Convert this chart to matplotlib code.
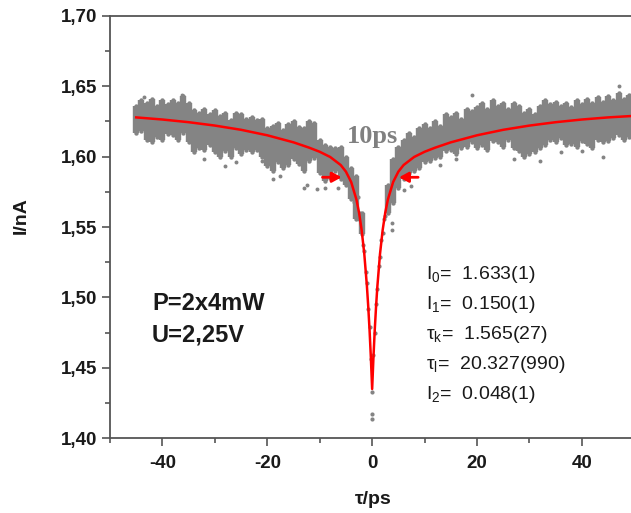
import matplotlib
matplotlib.use("Agg")
import matplotlib.pyplot as plt
import numpy as np

plt.rcParams["axes.unicode_minus"] = False
plt.rcParams["mathtext.fontset"] = "custom"
plt.rcParams["mathtext.rm"] = "Liberation Sans"
plt.rcParams["mathtext.it"] = "Liberation Sans"
plt.rcParams["mathtext.bf"] = "Liberation Sans:bold"

# ---- data ----
band_tau = [-45, -44, -43, -42, -41, -40, -39, -38, -37, -36, -35, -34, -33, -32, -31,
            -30, -29, -28, -27, -26, -25, -24, -23, -22, -21, -20, -19, -18, -17, -16,
            -15, -14, -13, -12, -11, -10, -9, -8, -7, -6, -5, -4, -3, -2,
            3, 4, 5, 6, 7, 8, 9, 10, 11, 12, 13, 14, 15, 16, 17, 18, 19, 20, 21, 22,
            23, 24, 25, 26, 27, 28, 29, 30, 31, 32, 33, 34, 35, 36, 37, 38, 39, 40,
            41, 42, 43, 44, 45, 46, 47, 48, 49]
band_hi = [1.636, 1.640, 1.638, 1.641, 1.636, 1.640, 1.637, 1.640, 1.638, 1.643, 1.638, 1.633, 1.631, 1.634, 1.630,
           1.633, 1.629, 1.631, 1.626, 1.631, 1.630, 1.627, 1.628, 1.626, 1.627, 1.620, 1.622, 1.624, 1.619, 1.623,
           1.625, 1.621, 1.620, 1.625, 1.624, 1.612, 1.608, 1.607, 1.606, 1.607, 1.600, 1.592, 1.586, 1.560,
           1.580, 1.598, 1.607, 1.612, 1.617, 1.614, 1.620, 1.623, 1.620, 1.625, 1.622, 1.630, 1.628, 1.631, 1.627, 1.634, 1.632, 1.635, 1.638, 1.634,
           1.640, 1.636, 1.638, 1.634, 1.638, 1.636, 1.631, 1.634, 1.630, 1.636, 1.640, 1.637, 1.639, 1.636, 1.638, 1.635, 1.640, 1.637,
           1.641, 1.638, 1.642, 1.639, 1.643, 1.640, 1.645, 1.641, 1.644]
band_lo = [1.617, 1.618, 1.612, 1.610, 1.614, 1.612, 1.616, 1.615, 1.612, 1.617, 1.610, 1.603, 1.606, 1.605, 1.608,
           1.603, 1.600, 1.604, 1.600, 1.606, 1.602, 1.605, 1.603, 1.605, 1.600, 1.593, 1.590, 1.596, 1.592, 1.594,
           1.598, 1.595, 1.590, 1.597, 1.599, 1.588, 1.583, 1.585, 1.590, 1.584, 1.580, 1.570, 1.556, 1.545,
           1.560, 1.567, 1.578, 1.584, 1.588, 1.590, 1.592, 1.596, 1.597, 1.599, 1.600, 1.604, 1.605, 1.602, 1.606, 1.607, 1.610, 1.606, 1.608, 1.605,
           1.611, 1.610, 1.607, 1.612, 1.606, 1.604, 1.600, 1.602, 1.603, 1.606, 1.608, 1.612, 1.610, 1.613, 1.608, 1.609, 1.607, 1.611,
           1.609, 1.606, 1.612, 1.610, 1.611, 1.613, 1.615, 1.612, 1.614]

outlier_tau = [-43.5, -36.3, -32.0, -28.0, -26.0, -21.0, -19.0, -17.5, -13.0, -12.5, -10.5, -9.0, -6.5,
               3.7, 3.8, 6.0, 7.5, 13.0, 16.0, 19.0, 27.0, 32.0, 36.0, 40.0, 44.0, 47.0]
outlier_I = [1.642, 1.644, 1.598, 1.593, 1.596, 1.597, 1.584, 1.586, 1.578, 1.580, 1.577, 1.578, 1.578,
             1.553, 1.548, 1.576, 1.579, 1.594, 1.598, 1.644, 1.598, 1.597, 1.603, 1.604, 1.600, 1.650]

dip_tau = [-3.75, -3.5, -3.25, -3.0, -2.75, -2.5, -2.25, -2.0, -1.75, -1.5, -1.25, -1.0, -0.75, -0.5, -0.25,
           0.0, 0.0, 0.0, 0.25, 0.5, 0.75, 1.0, 1.25, 1.5, 1.75, 2.0, 2.25, 2.5, 2.75, 3.0, 3.25, 3.5, 3.75]
dip_I = [1.583, 1.568, 1.578, 1.560, 1.571, 1.556, 1.560, 1.551, 1.537, 1.533, 1.518, 1.510, 1.492, 1.479, 1.456,
         1.433, 1.417, 1.414, 1.459, 1.475, 1.495, 1.506, 1.522, 1.529, 1.541, 1.546, 1.556, 1.558, 1.567, 1.566,
         1.575, 1.573, 1.580]

fit_tau = [-45, -40, -35, -30, -25, -20, -15, -12, -10, -8, -6, -5, -4, -3, -2.5, -2, -1.5, -1, -0.75, -0.5,
           -0.25, 0, 0.25, 0.5, 0.75, 1, 1.5, 2, 2.5, 3, 4, 5, 6, 8, 10, 12, 15, 20, 25, 30, 35, 40, 45, 50]
fit_I = [1.6278, 1.6263, 1.6244, 1.6220, 1.6190, 1.6151, 1.6101, 1.6063, 1.6034, 1.5997, 1.5940, 1.5893, 1.5819,
         1.5695, 1.5602, 1.5477, 1.5309, 1.5081, 1.4938, 1.4772, 1.4577, 1.4350, 1.4577, 1.4772, 1.4938, 1.5081,
         1.5309, 1.5477, 1.5602, 1.5695, 1.5819, 1.5893, 1.5940, 1.5997, 1.6034, 1.6063, 1.6101, 1.6151, 1.6190,
         1.6220, 1.6244, 1.6263, 1.6278, 1.6289]

x_ticks = [-40, -20, 0, 20, 40]
x_labels = ["-40", "-20", "0", "20", "40"]
y_ticks = [1.40, 1.45, 1.50, 1.55, 1.60, 1.65, 1.70]
y_labels = ["1,40", "1,45", "1,50", "1,55", "1,60", "1,65", "1,70"]

params = ["I$_\\mathregular{0}$=  1.633(1)", "I$_\\mathregular{1}$=  0.150(1)",
          "τ$_\\mathregular{k}$=  1.565(27)", "τ$_\\mathregular{l}$=  20.327(990)",
          "I$_\\mathregular{2}$=  0.048(1)"]

# ---- figure ----
W, H = 631, 513
fig = plt.figure(figsize=(W / 100, H / 100), dpi=100)
ax = fig.add_axes([110 / W, 74.7 / H, 524.3 / W, 422.6 / H])

gray = "#848484"
px_pt = 72 / 100
ax.vlines(band_tau, band_lo, band_hi, color=gray, linewidth=6.4 * px_pt, zorder=2)
ax.scatter(band_tau, band_hi, s=10, color=gray, zorder=2, linewidths=0)
ax.scatter(band_tau, band_lo, s=10, color=gray, zorder=2, linewidths=0)
ax.scatter(outlier_tau, outlier_I, s=8, color=gray, zorder=2, linewidths=0)
ax.scatter(dip_tau, dip_I, s=9, color=gray, zorder=2, linewidths=0)

ax.plot(fit_tau, fit_I, color="#ff0000", linewidth=1.8, zorder=3)

ax.set_xlim(-50, 50)
ax.set_ylim(1.40, 1.70)

ax.set_xticks(x_ticks)
ax.set_xticklabels(x_labels)
ax.set_xticks([-50, -30, -10, 10, 30, 50], minor=True)
ax.set_yticks(y_ticks)
ax.set_yticklabels(y_labels)
ax.set_yticks([1.425, 1.475, 1.525, 1.575, 1.625, 1.675], minor=True)

for s in ["left", "bottom", "top"]:
    ax.spines[s].set_color("#555555")
    ax.spines[s].set_linewidth(1.3)
ax.spines["right"].set_visible(False)

ax.tick_params(axis="both", which="major", direction="out", length=6, width=1.2,
               color="#555555", labelsize=13.5)
ax.tick_params(axis="both", which="minor", direction="out", length=3.5, width=1.2,
               color="#555555")
ax.tick_params(axis="x", pad=6)
ax.tick_params(axis="y", pad=3)
for lab in ax.get_xticklabels() + ax.get_yticklabels():
    lab.set_fontweight("bold")
    lab.set_fontfamily("Liberation Sans")
    lab.set_color("#1a1a1a")

ax.set_xlabel("τ/ps", fontsize=14, fontweight="bold", family="Liberation Sans",
              color="#1a1a1a")
ax.xaxis.set_label_coords(0.502, -0.124)
ax.set_ylabel("I/nA", fontsize=14, fontweight="bold", family="Liberation Sans",
              color="#1a1a1a")
ax.yaxis.set_label_coords(-0.154, 0.526)

# annotations
ax.text(0, 1.6145, "10ps", fontsize=19, fontweight="bold", family="Liberation Serif",
        color="#808080", ha="center", va="center", zorder=4)
ax.annotate("", xy=(-5.3, 1.5853), xytext=(-10.0, 1.5853),
            arrowprops=dict(arrowstyle="-|>,head_length=0.55,head_width=0.3", color="#ff0000", lw=2.0))
ax.annotate("", xy=(4.6, 1.5853), xytext=(9.3, 1.5853),
            arrowprops=dict(arrowstyle="-|>,head_length=0.55,head_width=0.3", color="#ff0000", lw=2.0))

ax.text(-42.0, 1.4955, "P=2x4mW", fontsize=17, fontweight="bold", family="Liberation Sans",
        color="#1a1a1a", va="center", ha="left")
ax.text(-42.0, 1.4735, "U=2,25V", fontsize=17, fontweight="bold", family="Liberation Sans",
        color="#1a1a1a", va="center", ha="left")

y0 = 1.5162
for i, p in enumerate(params):
    ax.text(10.2, y0 - i * 0.0213, p, fontsize=14, family="Liberation Sans",
            color="#1a1a1a", va="center", ha="left")

fig.savefig("out.png", dpi=100)
